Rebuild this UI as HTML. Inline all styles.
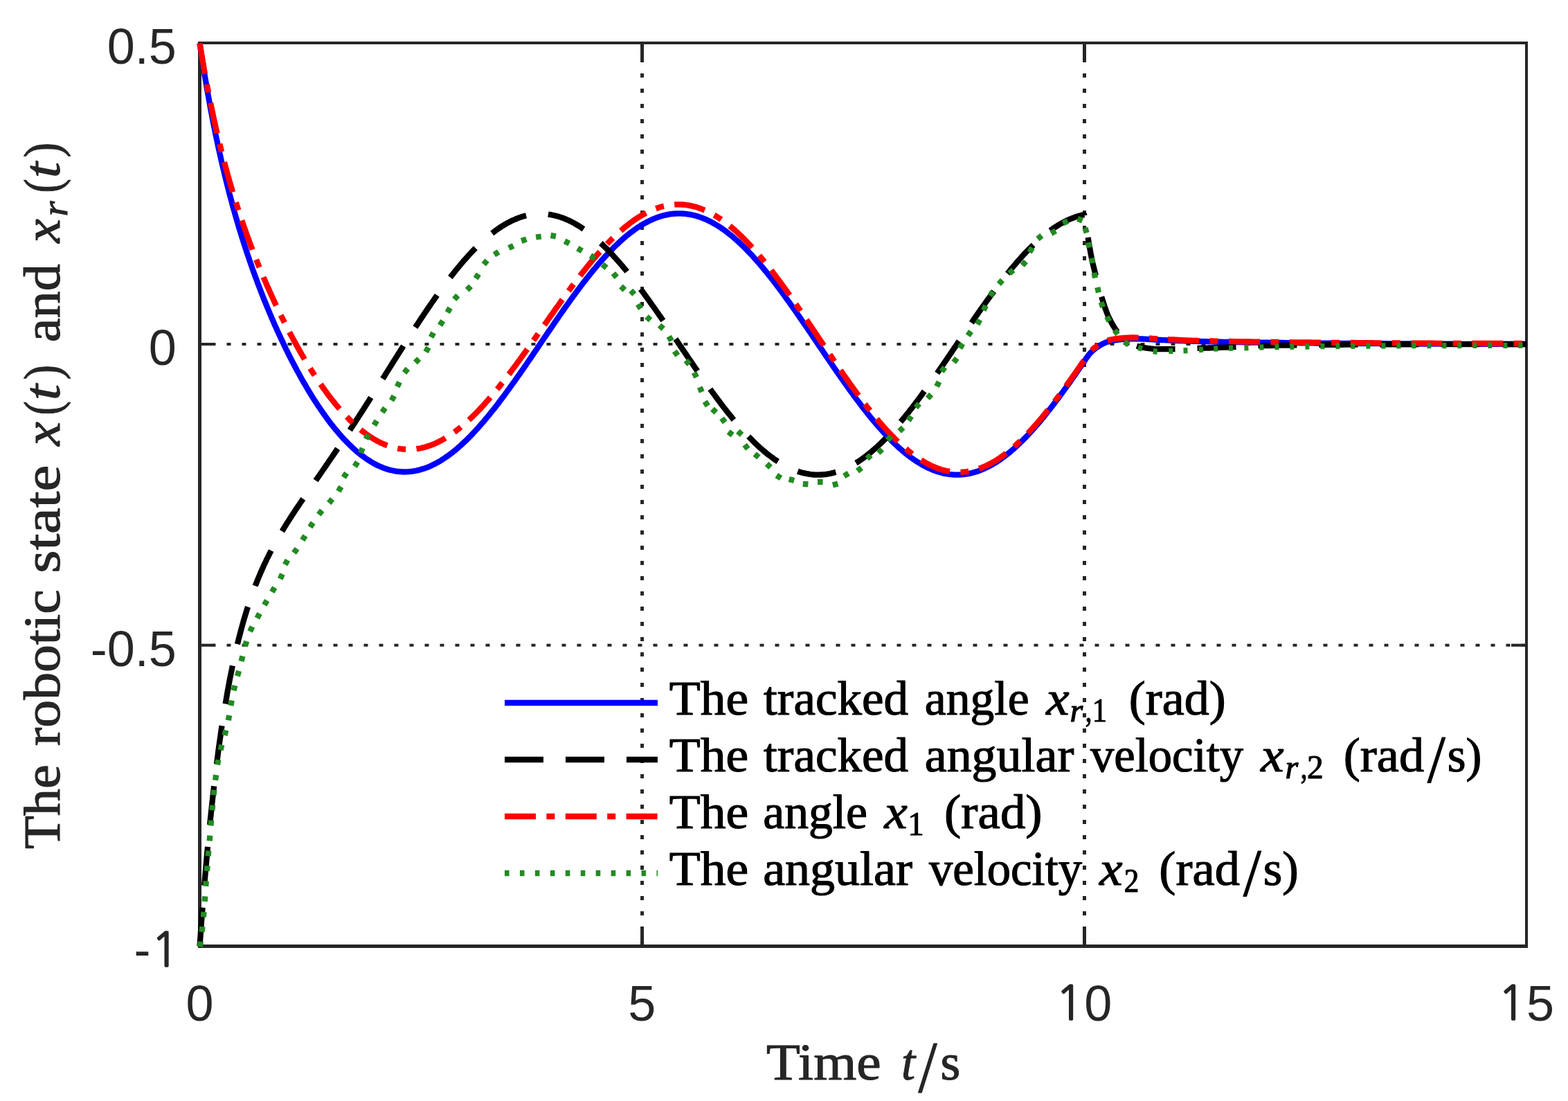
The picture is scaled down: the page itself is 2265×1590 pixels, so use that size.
<!DOCTYPE html>
<html><head><meta charset="utf-8"><title>Robotic state tracking</title>
<style>
html,body{margin:0;padding:0;background:#fff;}
body{width:2265px;height:1590px;overflow:hidden;}
svg{display:block;}
.tick{font-family:"Liberation Sans",Arial,Helvetica,sans-serif;font-size:72px;fill:#262626;}
.tex{font-family:"Liberation Serif","DejaVu Serif",serif;fill:#000;}
</style></head><body>
<svg xmlns="http://www.w3.org/2000/svg" width="2265" height="1590" viewBox="0 0 2265 1590">
<rect x="0" y="0" width="2265" height="1590" fill="#fff"/>

<g stroke="#262626" stroke-dasharray="6 16" fill="none">
<line x1="927.6" y1="1366.4" x2="927.6" y2="62.3" stroke-width="5" stroke-dashoffset="21.7"/>
<line x1="1566.5" y1="1366.4" x2="1566.5" y2="62.3" stroke-width="5" stroke-dashoffset="21.7"/>
<line x1="288.5" y1="497.0" x2="2205.0" y2="497.0" stroke-width="4.1" stroke-dashoffset="5.0"/>
<line x1="288.5" y1="931.7" x2="2205.0" y2="931.7" stroke-width="4.1" stroke-dashoffset="5.0"/>
</g>
<g fill="#262626" stroke="none">
<rect x="286" y="60" width="5" height="1309"/>
<rect x="2203" y="60" width="4" height="1309"/>
<rect x="286" y="60" width="1921" height="4"/>
<rect x="286" y="1364" width="1921" height="5"/>
<rect x="925.1" y="1344.0" width="5" height="22.5"/>
<rect x="925.1" y="62" width="5" height="22.5"/>
<rect x="1564.0" y="1344.0" width="5" height="22.5"/>
<rect x="1564.0" y="62" width="5" height="22.5"/>
<rect x="288.5" y="495.0" width="22" height="4.1"/>
<rect x="2183" y="495.0" width="22" height="4.1"/>
<rect x="288.5" y="929.7" width="22" height="4.1"/>
<rect x="2183" y="929.7" width="22" height="4.1"/>
</g>
<clipPath id="plotclip"><rect x="284.0" y="60.0" width="1923.1" height="1309.1000000000001"/></clipPath>
<g fill="none" stroke-width="8.3" stroke-linejoin="round" stroke-linecap="butt" clip-path="url(#plotclip)">
<path d="M288.5,62.3 L289.6,69.5 L290.6,76.7 L291.7,83.7 L292.8,90.5 L293.9,97.3 L294.9,103.9 L296.0,110.5 L297.1,116.9 L298.2,123.2 L299.2,129.5 L300.3,135.6 L301.4,141.6 L302.5,147.5 L303.5,153.4 L304.6,159.1 L305.7,164.8 L306.8,170.4 L307.8,175.9 L308.9,181.3 L310.0,186.7 L311.0,191.9 L312.1,197.1 L313.2,202.2 L314.3,207.3 L315.3,212.2 L316.4,217.2 L317.5,222.0 L318.6,226.8 L319.6,231.5 L320.7,236.1 L321.8,240.7 L322.9,245.3 L323.9,249.7 L325.0,254.2 L326.1,258.5 L327.2,262.9 L328.2,267.1 L329.3,271.3 L330.4,275.5 L331.4,279.6 L332.5,283.7 L333.6,287.7 L334.7,291.7 L335.7,295.6 L336.8,299.5 L337.9,303.3 L339.0,307.1 L340.0,310.9 L341.1,314.6 L342.2,318.3 L343.3,322.0 L344.3,325.6 L345.4,329.2 L346.5,332.7 L347.6,336.2 L348.6,339.7 L349.7,343.1 L350.8,346.5 L351.8,349.9 L352.9,353.2 L354.0,356.6 L355.1,359.8 L356.1,363.1 L357.2,366.3 L358.3,369.5 L359.4,372.7 L360.4,375.8 L361.5,378.9 L362.6,382.0 L363.7,385.1 L364.7,388.1 L365.8,391.1 L366.9,394.1 L368.0,397.1 L369.0,400.0 L370.1,402.9 L371.2,405.8 L372.2,408.7 L373.3,411.5 L374.4,414.4 L375.5,417.2 L376.5,419.9 L377.6,422.7 L378.7,425.5 L379.8,428.2 L380.8,430.9 L381.9,433.6 L383.0,436.2 L384.1,438.9 L385.1,441.5 L386.2,444.1 L387.3,446.7 L388.4,449.3 L389.4,451.8 L390.5,454.3 L391.6,456.9 L392.6,459.4 L393.7,461.8 L394.8,464.3 L395.9,466.8 L396.9,469.2 L398.0,471.6 L399.1,474.0 L400.2,476.4 L401.2,478.8 L402.3,481.1 L403.4,483.4 L404.5,485.8 L405.5,488.1 L406.6,490.4 L407.7,492.6 L408.8,494.9 L409.8,497.1 L410.9,499.4 L412.0,501.6 L413.0,503.8 L414.1,506.0 L415.2,508.1 L416.3,510.3 L418.8,515.3 L421.3,520.3 L423.9,525.2 L426.4,530.0 L428.9,534.7 L431.5,539.3 L434.0,543.9 L436.5,548.4 L439.1,552.9 L441.6,557.2 L444.1,561.5 L446.7,565.7 L449.2,569.8 L451.7,573.9 L454.3,577.9 L456.8,581.8 L459.3,585.7 L461.9,589.4 L464.4,593.1 L466.9,596.8 L469.5,600.3 L472.0,603.8 L474.5,607.2 L477.0,610.6 L479.6,613.8 L482.1,617.0 L484.6,620.1 L487.2,623.2 L489.7,626.1 L492.2,629.0 L494.8,631.9 L497.3,634.6 L499.8,637.3 L502.4,639.9 L504.9,642.4 L507.4,644.8 L510.0,647.2 L512.5,649.5 L515.0,651.7 L517.6,653.8 L520.1,655.9 L522.6,657.8 L525.2,659.7 L527.7,661.5 L530.2,663.3 L532.8,664.9 L535.3,666.5 L537.8,668.0 L540.4,669.5 L542.9,670.8 L545.4,672.1 L548.0,673.2 L550.5,674.3 L553.0,675.4 L555.6,676.3 L558.1,677.2 L560.6,678.0 L563.2,678.7 L565.7,679.3 L568.2,679.8 L570.8,680.3 L573.3,680.7 L575.8,681.0 L578.4,681.2 L580.9,681.4 L583.4,681.5 L585.9,681.4 L588.5,681.4 L591.0,681.2 L593.5,680.9 L596.1,680.6 L598.6,680.2 L601.1,679.7 L603.7,679.2 L606.2,678.5 L608.7,677.8 L611.3,677.1 L613.8,676.2 L616.3,675.3 L618.9,674.3 L621.4,673.2 L623.9,672.0 L626.5,670.8 L629.0,669.5 L631.5,668.1 L634.1,666.7 L636.6,665.2 L639.1,663.6 L641.7,662.0 L644.2,660.2 L646.7,658.5 L649.3,656.6 L651.8,654.7 L654.3,652.7 L656.9,650.7 L659.4,648.6 L661.9,646.4 L664.5,644.2 L667.0,641.9 L669.5,639.5 L672.1,637.1 L674.6,634.7 L677.1,632.2 L679.7,629.6 L682.2,627.0 L684.7,624.3 L687.3,621.5 L689.8,618.8 L692.3,615.9 L694.8,613.1 L697.4,610.1 L699.9,607.2 L702.4,604.1 L705.0,601.1 L707.5,598.0 L710.0,594.8 L712.6,591.7 L715.1,588.4 L717.6,585.2 L720.2,581.9 L722.7,578.6 L725.2,575.2 L727.8,571.8 L730.3,568.4 L732.8,564.9 L735.4,561.4 L737.9,557.9 L740.4,554.4 L743.0,550.9 L745.5,547.3 L748.0,543.7 L750.6,540.1 L753.1,536.4 L755.6,532.8 L758.2,529.1 L760.7,525.5 L763.2,521.8 L765.8,518.1 L768.3,514.4 L770.8,510.6 L773.4,506.9 L775.9,503.2 L778.4,499.5 L781.0,495.7 L783.5,492.0 L786.0,488.3 L788.6,484.6 L791.1,480.8 L793.6,477.1 L796.2,473.4 L798.7,469.7 L801.2,466.0 L803.7,462.4 L806.3,458.7 L808.8,455.0 L811.3,451.4 L813.9,447.8 L816.4,444.2 L818.9,440.6 L821.5,437.1 L824.0,433.5 L826.5,430.0 L829.1,426.6 L831.6,423.1 L834.1,419.7 L836.7,416.3 L839.2,412.9 L841.7,409.6 L844.3,406.3 L846.8,403.1 L849.3,399.8 L851.9,396.6 L854.4,393.5 L856.9,390.4 L859.5,387.3 L862.0,384.3 L864.5,381.3 L867.1,378.4 L869.6,375.5 L872.1,372.7 L874.7,369.9 L877.2,367.2 L879.7,364.5 L882.3,361.9 L884.8,359.3 L887.3,356.7 L889.9,354.3 L892.4,351.9 L894.9,349.5 L897.5,347.2 L900.0,344.9 L902.5,342.8 L905.1,340.6 L907.6,338.6 L910.1,336.6 L912.7,334.6 L915.2,332.8 L917.7,331.0 L920.2,329.2 L922.8,327.5 L925.3,325.9 L927.8,324.4 L930.4,322.9 L932.9,321.5 L935.4,320.2 L938.0,318.9 L940.5,317.7 L943.0,316.6 L945.6,315.5 L948.1,314.5 L950.6,313.6 L953.2,312.8 L955.7,312.0 L958.2,311.3 L960.8,310.7 L963.3,310.1 L965.8,309.6 L968.4,309.2 L970.9,308.9 L973.4,308.6 L976.0,308.5 L978.5,308.4 L981.0,308.3 L983.6,308.4 L986.1,308.5 L988.6,308.7 L991.2,308.9 L993.7,309.3 L996.2,309.7 L998.8,310.1 L1001.3,310.7 L1003.8,311.3 L1006.4,312.0 L1008.9,312.8 L1011.4,313.7 L1014.0,314.6 L1016.5,315.6 L1019.0,316.6 L1021.6,317.8 L1024.1,319.0 L1026.6,320.2 L1029.1,321.6 L1031.7,323.0 L1034.2,324.5 L1036.7,326.0 L1039.3,327.6 L1041.8,329.3 L1044.3,331.0 L1046.9,332.9 L1049.4,334.7 L1051.9,336.7 L1054.5,338.7 L1057.0,340.7 L1059.5,342.9 L1062.1,345.1 L1064.6,347.3 L1067.1,349.6 L1069.7,352.0 L1072.2,354.4 L1074.7,356.9 L1077.3,359.4 L1079.8,362.0 L1082.3,364.6 L1084.9,367.3 L1087.4,370.1 L1089.9,372.9 L1092.5,375.7 L1095.0,378.6 L1097.5,381.5 L1100.1,384.5 L1102.6,387.5 L1105.1,390.6 L1107.7,393.7 L1110.2,396.8 L1112.7,400.0 L1115.3,403.3 L1117.8,406.5 L1120.3,409.8 L1122.9,413.2 L1125.4,416.5 L1127.9,419.9 L1130.5,423.3 L1133.0,426.8 L1135.5,430.3 L1138.0,433.8 L1140.6,437.3 L1143.1,440.9 L1145.6,444.5 L1148.2,448.1 L1150.7,451.7 L1153.2,455.3 L1155.8,459.0 L1158.3,462.7 L1160.8,466.3 L1163.4,470.0 L1165.9,473.8 L1168.4,477.5 L1171.0,481.2 L1173.5,484.9 L1176.0,488.7 L1178.6,492.4 L1181.1,496.1 L1183.6,499.9 L1186.2,503.6 L1188.7,507.3 L1191.2,511.1 L1193.8,514.8 L1196.3,518.5 L1198.8,522.2 L1201.4,525.9 L1203.9,529.6 L1206.4,533.3 L1209.0,537.0 L1211.5,540.6 L1214.0,544.2 L1216.6,547.8 L1219.1,551.4 L1221.6,555.0 L1224.2,558.6 L1226.7,562.1 L1229.2,565.6 L1231.8,569.0 L1234.3,572.5 L1236.8,575.9 L1239.4,579.3 L1241.9,582.6 L1244.4,585.9 L1246.9,589.2 L1249.5,592.5 L1252.0,595.7 L1254.5,598.8 L1257.1,602.0 L1259.6,605.1 L1262.1,608.1 L1264.7,611.1 L1267.2,614.1 L1269.7,617.0 L1272.3,619.8 L1274.8,622.6 L1277.3,625.4 L1279.9,628.1 L1282.4,630.8 L1284.9,633.4 L1287.5,636.0 L1290.0,638.5 L1292.5,640.9 L1295.1,643.3 L1297.6,645.6 L1300.1,647.9 L1302.7,650.1 L1305.2,652.3 L1307.7,654.4 L1310.3,656.4 L1312.8,658.4 L1315.3,660.3 L1317.9,662.1 L1320.4,663.9 L1322.9,665.6 L1325.5,667.2 L1328.0,668.8 L1330.5,670.3 L1333.1,671.8 L1335.6,673.1 L1338.1,674.5 L1340.7,675.7 L1343.2,676.8 L1345.7,677.9 L1348.3,679.0 L1350.8,679.9 L1353.3,680.8 L1355.8,681.6 L1358.4,682.3 L1360.9,683.0 L1363.4,683.6 L1366.0,684.1 L1368.5,684.5 L1371.0,684.9 L1373.6,685.2 L1376.1,685.4 L1378.6,685.6 L1381.2,685.7 L1383.7,685.6 L1386.2,685.6 L1388.8,685.4 L1391.3,685.2 L1393.8,684.9 L1396.4,684.5 L1398.9,684.1 L1401.4,683.6 L1404.0,683.0 L1406.5,682.3 L1409.0,681.6 L1411.6,680.8 L1414.1,679.9 L1416.6,678.9 L1419.2,677.9 L1421.7,676.8 L1424.2,675.6 L1426.8,674.4 L1429.3,673.1 L1431.8,671.7 L1434.4,670.3 L1436.9,668.8 L1439.4,667.2 L1442.0,665.5 L1444.5,663.8 L1447.0,662.0 L1449.6,660.2 L1452.1,658.3 L1454.6,656.3 L1457.2,654.3 L1459.7,652.2 L1462.2,650.0 L1464.8,647.8 L1467.3,645.5 L1469.8,643.2 L1472.3,640.8 L1474.9,638.3 L1477.4,635.8 L1479.9,633.3 L1482.5,630.7 L1485.0,628.0 L1487.5,625.3 L1490.1,622.5 L1492.6,619.7 L1495.1,616.8 L1497.7,613.9 L1500.2,611.0 L1502.7,608.0 L1505.3,604.9 L1507.8,601.8 L1510.3,598.7 L1512.9,595.5 L1515.4,592.3 L1517.9,589.1 L1520.5,585.8 L1523.0,582.5 L1525.5,579.1 L1528.1,575.8 L1530.6,572.3 L1533.1,568.9 L1535.7,565.4 L1538.2,561.9 L1540.7,558.4 L1543.3,554.9 L1545.8,551.3 L1548.3,547.7 L1550.9,544.1 L1553.4,540.4 L1554.3,539.2 L1555.2,537.9 L1556.0,536.6 L1556.9,535.4 L1557.8,534.1 L1558.7,532.8 L1559.6,531.5 L1560.5,530.2 L1561.3,528.9 L1562.2,527.7 L1563.1,526.4 L1564.0,525.1 L1564.9,523.8 L1565.8,522.5 L1566.2,521.9 L1566.6,521.1 L1567.5,519.8 L1568.4,518.4 L1569.3,517.1 L1570.2,515.9 L1571.1,514.6 L1572.0,513.5 L1572.8,512.3 L1573.7,511.3 L1574.6,510.3 L1575.5,509.3 L1576.4,508.4 L1577.3,507.6 L1578.1,506.7 L1579.0,505.9 L1579.9,505.1 L1580.8,504.4 L1581.7,503.7 L1582.6,503.0 L1583.4,502.4 L1584.3,501.7 L1585.2,501.1 L1586.1,500.5 L1587.0,500.0 L1587.9,499.5 L1588.7,498.9 L1589.6,498.4 L1590.5,497.9 L1591.4,497.4 L1592.3,496.9 L1593.2,496.4 L1594.1,496.0 L1594.9,495.6 L1595.8,495.1 L1596.7,494.8 L1597.6,494.4 L1598.5,494.1 L1599.4,493.8 L1600.2,493.6 L1601.1,493.3 L1602.0,493.1 L1602.9,492.9 L1603.8,492.7 L1604.7,492.5 L1605.5,492.3 L1606.4,492.1 L1607.3,491.9 L1608.2,491.8 L1609.1,491.6 L1610.0,491.5 L1610.8,491.3 L1611.7,491.2 L1612.6,491.1 L1613.5,490.9 L1614.4,490.8 L1615.3,490.7 L1616.1,490.6 L1617.0,490.5 L1617.9,490.4 L1618.8,490.3 L1619.7,490.2 L1620.6,490.1 L1621.5,490.1 L1622.3,490.0 L1623.2,489.9 L1624.1,489.8 L1625.0,489.8 L1625.9,489.7 L1626.8,489.7 L1627.6,489.6 L1628.5,489.6 L1629.4,489.5 L1630.3,489.5 L1631.2,489.4 L1632.1,489.4 L1632.9,489.3 L1633.8,489.3 L1634.7,489.3 L1635.6,489.3 L1636.5,489.3 L1637.4,489.3 L1638.2,489.3 L1639.1,489.3 L1640.0,489.3 L1640.9,489.3 L1641.8,489.3 L1642.7,489.3 L1643.5,489.3 L1644.4,489.4 L1645.3,489.4 L1646.2,489.4 L1647.1,489.4 L1648.0,489.4 L1648.9,489.5 L1649.7,489.5 L1650.6,489.5 L1651.5,489.5 L1652.4,489.6 L1653.3,489.6 L1654.2,489.7 L1655.0,489.7 L1655.9,489.8 L1656.8,489.8 L1657.7,489.9 L1658.6,489.9 L1659.5,490.0 L1660.3,490.0 L1661.2,490.1 L1662.1,490.1 L1663.0,490.2 L1663.9,490.2 L1664.8,490.3 L1665.6,490.4 L1666.5,490.4 L1667.4,490.5 L1668.3,490.5 L1669.2,490.6 L1670.1,490.6 L1671.0,490.7 L1671.8,490.7 L1672.7,490.7 L1673.6,490.8 L1674.5,490.8 L1675.4,490.9 L1676.3,490.9 L1677.1,491.0 L1678.0,491.0 L1678.9,491.0 L1679.8,491.1 L1680.7,491.1 L1681.6,491.2 L1682.4,491.2 L1683.3,491.2 L1684.2,491.3 L1685.1,491.3 L1686.0,491.4 L1686.9,491.4 L1687.7,491.4 L1688.6,491.5 L1689.5,491.5 L1690.4,491.6 L1691.3,491.6 L1692.2,491.6 L1693.0,491.7 L1693.9,491.7 L1698.2,491.9 L1702.5,492.0 L1706.8,492.2 L1711.1,492.3 L1715.4,492.5 L1719.7,492.6 L1724.0,492.8 L1728.3,492.9 L1732.6,493.0 L1736.9,493.1 L1741.2,493.2 L1745.5,493.3 L1749.8,493.4 L1754.1,493.5 L1758.4,493.6 L1762.6,493.7 L1766.9,493.8 L1771.2,493.9 L1775.5,493.9 L1779.8,494.0 L1784.1,494.1 L1788.4,494.1 L1792.7,494.2 L1797.0,494.3 L1801.3,494.3 L1805.6,494.4 L1809.9,494.5 L1814.2,494.5 L1818.5,494.6 L1822.8,494.6 L1827.1,494.7 L1831.4,494.7 L1835.7,494.8 L1840.0,494.8 L1844.2,494.9 L1848.5,495.0 L1852.8,495.0 L1857.1,495.1 L1861.4,495.1 L1865.7,495.1 L1870.0,495.2 L1874.3,495.2 L1878.6,495.3 L1882.9,495.3 L1887.2,495.4 L1891.5,495.4 L1895.8,495.4 L1900.1,495.5 L1904.4,495.5 L1908.7,495.6 L1913.0,495.6 L1917.3,495.6 L1921.6,495.7 L1925.8,495.7 L1930.1,495.7 L1934.4,495.8 L1938.7,495.8 L1943.0,495.8 L1947.3,495.9 L1951.6,495.9 L1955.9,495.9 L1960.2,495.9 L1964.5,496.0 L1968.8,496.0 L1973.1,496.0 L1977.4,496.1 L1981.7,496.1 L1986.0,496.1 L1990.3,496.2 L1994.6,496.2 L1998.9,496.2 L2003.2,496.2 L2007.4,496.3 L2011.7,496.3 L2016.0,496.3 L2020.3,496.4 L2024.6,496.4 L2028.9,496.4 L2033.2,496.4 L2037.5,496.5 L2041.8,496.5 L2046.1,496.5 L2050.4,496.5 L2054.7,496.6 L2059.0,496.6 L2063.3,496.6 L2067.6,496.6 L2071.9,496.6 L2076.2,496.6 L2080.5,496.7 L2084.7,496.7 L2089.0,496.7 L2093.3,496.7 L2097.6,496.7 L2101.9,496.7 L2106.2,496.8 L2110.5,496.8 L2114.8,496.8 L2119.1,496.8 L2123.4,496.8 L2127.7,496.8 L2132.0,496.8 L2136.3,496.9 L2140.6,496.9 L2144.9,496.9 L2149.2,496.9 L2153.5,496.9 L2157.8,496.9 L2162.1,496.9 L2166.3,496.9 L2170.6,496.9 L2174.9,497.0 L2179.2,497.0 L2183.5,497.0 L2187.8,497.0 L2192.1,497.0 L2196.4,497.0 L2200.7,497.0 L2205.0,497.0" stroke="#0000ff"/>
<path d="M288.5,1366.4 L289.6,1351.3 L290.6,1336.6 L291.7,1322.2 L292.8,1308.3 L293.9,1294.7 L294.9,1281.5 L296.0,1268.6 L297.1,1256.0 L298.2,1243.7 L299.2,1231.8 L300.3,1220.2 L301.4,1208.9 L302.5,1197.8 L303.5,1187.0 L304.6,1176.6 L305.7,1166.3 L306.8,1156.4 L307.8,1146.7 L308.9,1137.2 L310.0,1127.9 L311.0,1118.9 L312.1,1110.1 L313.2,1101.6 L314.3,1093.2 L315.3,1085.1 L316.4,1077.1 L317.5,1069.4 L318.6,1061.8 L319.6,1054.4 L320.7,1047.2 L321.8,1040.1 L322.9,1033.3 L323.9,1026.6 L325.0,1020.0 L326.1,1013.6 L327.2,1007.4 L328.2,1001.3 L329.3,995.3 L330.4,989.5 L331.4,983.8 L332.5,978.2 L333.6,972.8 L334.7,967.5 L335.7,962.3 L336.8,957.2 L337.9,952.3 L339.0,947.4 L340.0,942.7 L341.1,938.0 L342.2,933.5 L343.3,929.0 L344.3,924.7 L345.4,920.4 L346.5,916.3 L347.6,912.2 L348.6,908.2 L349.7,904.3 L350.8,900.4 L351.8,896.7 L352.9,893.0 L354.0,889.3 L355.1,885.8 L356.1,882.3 L357.2,878.9 L358.3,875.6 L359.4,872.3 L360.4,869.1 L361.5,865.9 L362.6,862.8 L363.7,859.8 L364.7,856.8 L365.8,853.8 L366.9,850.9 L368.0,848.1 L369.0,845.3 L370.1,842.6 L371.2,839.9 L372.2,837.2 L373.3,834.6 L374.4,832.0 L375.5,829.5 L376.5,827.0 L377.6,824.5 L378.7,822.1 L379.8,819.7 L380.8,817.3 L381.9,815.0 L383.0,812.7 L384.1,810.5 L385.1,808.2 L386.2,806.0 L387.3,803.9 L388.4,801.7 L389.4,799.6 L390.5,797.5 L391.6,795.4 L392.6,793.4 L393.7,791.4 L394.8,789.4 L395.9,787.4 L396.9,785.4 L398.0,783.5 L399.1,781.6 L400.2,779.7 L401.2,777.8 L402.3,775.9 L403.4,774.1 L404.5,772.2 L405.5,770.4 L406.6,768.6 L407.7,766.8 L408.8,765.0 L409.8,763.3 L410.9,761.5 L412.0,759.8 L413.0,758.1 L414.1,756.3 L415.2,754.6 L416.3,752.9 L418.8,749.0 L421.3,745.0 L423.9,741.2 L426.4,737.3 L428.9,733.5 L431.5,729.8 L434.0,726.0 L436.5,722.3 L439.1,718.6 L441.6,714.9 L444.1,711.2 L446.7,707.6 L449.2,703.9 L451.7,700.2 L454.3,696.6 L456.8,692.9 L459.3,689.3 L461.9,685.6 L464.4,682.0 L466.9,678.3 L469.5,674.6 L472.0,670.9 L474.5,667.2 L477.0,663.5 L479.6,659.8 L482.1,656.1 L484.6,652.4 L487.2,648.6 L489.7,644.9 L492.2,641.1 L494.8,637.3 L497.3,633.5 L499.8,629.7 L502.4,625.8 L504.9,622.0 L507.4,618.1 L510.0,614.2 L512.5,610.4 L515.0,606.4 L517.6,602.5 L520.1,598.6 L522.6,594.7 L525.2,590.7 L527.7,586.8 L530.2,582.8 L532.8,578.8 L535.3,574.8 L537.8,570.8 L540.4,566.8 L542.9,562.8 L545.4,558.8 L548.0,554.8 L550.5,550.7 L553.0,546.7 L555.6,542.7 L558.1,538.6 L560.6,534.6 L563.2,530.6 L565.7,526.5 L568.2,522.5 L570.8,518.5 L573.3,514.5 L575.8,510.5 L578.4,506.5 L580.9,502.5 L583.4,498.5 L585.9,494.5 L588.5,490.5 L591.0,486.6 L593.5,482.6 L596.1,478.7 L598.6,474.8 L601.1,470.9 L603.7,467.1 L606.2,463.2 L608.7,459.4 L611.3,455.6 L613.8,451.8 L616.3,448.1 L618.9,444.3 L621.4,440.6 L623.9,437.0 L626.5,433.3 L629.0,429.7 L631.5,426.1 L634.1,422.6 L636.6,419.1 L639.1,415.6 L641.7,412.2 L644.2,408.8 L646.7,405.4 L649.3,402.1 L651.8,398.8 L654.3,395.6 L656.9,392.4 L659.4,389.2 L661.9,386.1 L664.5,383.1 L667.0,380.1 L669.5,377.1 L672.1,374.2 L674.6,371.4 L677.1,368.6 L679.7,365.8 L682.2,363.2 L684.7,360.5 L687.3,357.9 L689.8,355.4 L692.3,353.0 L694.8,350.6 L697.4,348.2 L699.9,345.9 L702.4,343.7 L705.0,341.6 L707.5,339.5 L710.0,337.4 L712.6,335.5 L715.1,333.6 L717.6,331.7 L720.2,330.0 L722.7,328.3 L725.2,326.6 L727.8,325.1 L730.3,323.6 L732.8,322.2 L735.4,320.8 L737.9,319.5 L740.4,318.3 L743.0,317.2 L745.5,316.1 L748.0,315.1 L750.6,314.2 L753.1,313.3 L755.6,312.5 L758.2,311.8 L760.7,311.2 L763.2,310.7 L765.8,310.2 L768.3,309.8 L770.8,309.4 L773.4,309.2 L775.9,309.0 L778.4,308.9 L781.0,308.8 L783.5,308.9 L786.0,309.0 L788.6,309.2 L791.1,309.4 L793.6,309.8 L796.2,310.2 L798.7,310.7 L801.2,311.2 L803.7,311.9 L806.3,312.6 L808.8,313.4 L811.3,314.2 L813.9,315.1 L816.4,316.1 L818.9,317.2 L821.5,318.3 L824.0,319.6 L826.5,320.8 L829.1,322.2 L831.6,323.6 L834.1,325.1 L836.7,326.6 L839.2,328.3 L841.7,330.0 L844.3,331.7 L846.8,333.5 L849.3,335.4 L851.9,337.4 L854.4,339.4 L856.9,341.5 L859.5,343.6 L862.0,345.8 L864.5,348.0 L867.1,350.4 L869.6,352.7 L872.1,355.2 L874.7,357.6 L877.2,360.2 L879.7,362.8 L882.3,365.4 L884.8,368.1 L887.3,370.9 L889.9,373.7 L892.4,376.5 L894.9,379.4 L897.5,382.4 L900.0,385.3 L902.5,388.4 L905.1,391.4 L907.6,394.6 L910.1,397.7 L912.7,400.9 L915.2,404.1 L917.7,407.4 L920.2,410.7 L922.8,414.1 L925.3,417.4 L927.8,420.8 L930.4,424.3 L932.9,427.7 L935.4,431.2 L938.0,434.7 L940.5,438.3 L943.0,441.8 L945.6,445.4 L948.1,449.0 L950.6,452.6 L953.2,456.3 L955.7,459.9 L958.2,463.6 L960.8,467.3 L963.3,471.0 L965.8,474.7 L968.4,478.4 L970.9,482.1 L973.4,485.9 L976.0,489.6 L978.5,493.3 L981.0,497.1 L983.6,500.8 L986.1,504.6 L988.6,508.3 L991.2,512.0 L993.7,515.7 L996.2,519.5 L998.8,523.2 L1001.3,526.9 L1003.8,530.6 L1006.4,534.2 L1008.9,537.9 L1011.4,541.5 L1014.0,545.1 L1016.5,548.8 L1019.0,552.3 L1021.6,555.9 L1024.1,559.4 L1026.6,563.0 L1029.1,566.4 L1031.7,569.9 L1034.2,573.3 L1036.7,576.7 L1039.3,580.1 L1041.8,583.5 L1044.3,586.8 L1046.9,590.0 L1049.4,593.3 L1051.9,596.5 L1054.5,599.6 L1057.0,602.7 L1059.5,605.8 L1062.1,608.9 L1064.6,611.8 L1067.1,614.8 L1069.7,617.7 L1072.2,620.5 L1074.7,623.3 L1077.3,626.1 L1079.8,628.8 L1082.3,631.4 L1084.9,634.0 L1087.4,636.6 L1089.9,639.1 L1092.5,641.5 L1095.0,643.9 L1097.5,646.2 L1100.1,648.5 L1102.6,650.7 L1105.1,652.8 L1107.7,654.9 L1110.2,656.9 L1112.7,658.8 L1115.3,660.7 L1117.8,662.6 L1120.3,664.3 L1122.9,666.0 L1125.4,667.6 L1127.9,669.2 L1130.5,670.7 L1133.0,672.1 L1135.5,673.5 L1138.0,674.8 L1140.6,676.0 L1143.1,677.1 L1145.6,678.2 L1148.2,679.2 L1150.7,680.1 L1153.2,681.0 L1155.8,681.8 L1158.3,682.5 L1160.8,683.2 L1163.4,683.7 L1165.9,684.2 L1168.4,684.6 L1171.0,685.0 L1173.5,685.3 L1176.0,685.5 L1178.6,685.6 L1181.1,685.7 L1183.6,685.6 L1186.2,685.5 L1188.7,685.4 L1191.2,685.1 L1193.8,684.8 L1196.3,684.4 L1198.8,684.0 L1201.4,683.4 L1203.9,682.8 L1206.4,682.1 L1209.0,681.4 L1211.5,680.6 L1214.0,679.7 L1216.6,678.7 L1219.1,677.6 L1221.6,676.5 L1224.2,675.3 L1226.7,674.1 L1229.2,672.8 L1231.8,671.4 L1234.3,669.9 L1236.8,668.4 L1239.4,666.8 L1241.9,665.1 L1244.4,663.4 L1246.9,661.6 L1249.5,659.7 L1252.0,657.8 L1254.5,655.8 L1257.1,653.8 L1259.6,651.6 L1262.1,649.5 L1264.7,647.2 L1267.2,645.0 L1269.7,642.6 L1272.3,640.2 L1274.8,637.7 L1277.3,635.2 L1279.9,632.6 L1282.4,630.0 L1284.9,627.3 L1287.5,624.6 L1290.0,621.8 L1292.5,619.0 L1295.1,616.1 L1297.6,613.2 L1300.1,610.2 L1302.7,607.2 L1305.2,604.2 L1307.7,601.1 L1310.3,597.9 L1312.8,594.8 L1315.3,591.5 L1317.9,588.3 L1320.4,585.0 L1322.9,581.7 L1325.5,578.3 L1328.0,574.9 L1330.5,571.5 L1333.1,568.0 L1335.6,564.6 L1338.1,561.1 L1340.7,557.5 L1343.2,554.0 L1345.7,550.4 L1348.3,546.8 L1350.8,543.2 L1353.3,539.6 L1355.8,535.9 L1358.4,532.2 L1360.9,528.6 L1363.4,524.9 L1366.0,521.2 L1368.5,517.4 L1371.0,513.7 L1373.6,510.0 L1376.1,506.3 L1378.6,502.5 L1381.2,498.8 L1383.7,495.0 L1386.2,491.3 L1388.8,487.6 L1391.3,483.8 L1393.8,480.1 L1396.4,476.4 L1398.9,472.7 L1401.4,469.0 L1404.0,465.3 L1406.5,461.6 L1409.0,457.9 L1411.6,454.3 L1414.1,450.7 L1416.6,447.0 L1419.2,443.4 L1421.7,439.9 L1424.2,436.3 L1426.8,432.8 L1429.3,429.3 L1431.8,425.8 L1434.4,422.4 L1436.9,418.9 L1439.4,415.5 L1442.0,412.2 L1444.5,408.9 L1447.0,405.6 L1449.6,402.3 L1452.1,399.1 L1454.6,395.9 L1457.2,392.8 L1459.7,389.7 L1462.2,386.6 L1464.8,383.6 L1467.3,380.7 L1469.8,377.7 L1472.3,374.9 L1474.9,372.0 L1477.4,369.3 L1479.9,366.5 L1482.5,363.9 L1485.0,361.2 L1487.5,358.7 L1490.1,356.2 L1492.6,353.7 L1495.1,351.3 L1497.7,348.9 L1500.2,346.7 L1502.7,344.4 L1505.3,342.3 L1507.8,340.1 L1510.3,338.1 L1512.9,336.1 L1515.4,334.2 L1517.9,332.3 L1520.5,330.5 L1523.0,328.8 L1525.5,327.2 L1528.1,325.6 L1530.6,324.0 L1533.1,322.6 L1535.7,321.2 L1538.2,319.9 L1540.7,318.6 L1543.3,317.4 L1545.8,316.3 L1548.3,315.3 L1550.9,314.3 L1553.4,313.4 L1554.3,313.1 L1555.2,312.8 L1556.0,312.5 L1556.9,312.3 L1557.8,312.0 L1558.7,311.8 L1559.6,311.5 L1560.5,311.3 L1561.3,311.1 L1562.2,310.8 L1563.1,310.6 L1564.0,310.4 L1564.9,310.3 L1565.8,310.1 L1566.2,310.0 L1566.6,313.1 L1567.5,318.7 L1568.4,324.2 L1569.3,329.6 L1570.2,335.0 L1571.1,340.2 L1572.0,345.4 L1572.8,350.5 L1573.7,355.6 L1574.6,360.6 L1575.5,365.5 L1576.4,370.2 L1577.3,374.6 L1578.1,378.6 L1579.0,382.4 L1579.9,386.1 L1580.8,389.6 L1581.7,393.0 L1582.6,396.5 L1583.4,399.9 L1584.3,403.4 L1585.2,406.8 L1586.1,410.2 L1587.0,413.5 L1587.9,416.8 L1588.7,420.1 L1589.6,423.2 L1590.5,426.3 L1591.4,429.2 L1592.3,432.1 L1593.2,434.9 L1594.1,437.7 L1594.9,440.4 L1595.8,443.1 L1596.7,445.7 L1597.6,448.2 L1598.5,450.6 L1599.4,452.9 L1600.2,455.1 L1601.1,457.1 L1602.0,459.0 L1602.9,460.8 L1603.8,462.5 L1604.7,464.3 L1605.5,465.9 L1606.4,467.5 L1607.3,469.0 L1608.2,470.5 L1609.1,472.0 L1610.0,473.4 L1610.8,474.7 L1611.7,476.1 L1612.6,477.3 L1613.5,478.6 L1614.4,479.8 L1615.3,480.9 L1616.1,482.1 L1617.0,483.3 L1617.9,484.5 L1618.8,485.6 L1619.7,486.7 L1620.6,487.8 L1621.5,488.9 L1622.3,489.8 L1623.2,490.8 L1624.1,491.6 L1625.0,492.4 L1625.9,493.1" stroke="#000000" stroke-dasharray="56 32"/><path d="M1625.9,493.1 L1626.8,493.8 L1627.6,494.3 L1628.5,494.8 L1629.4,495.2 L1630.3,495.7 L1631.2,496.1 L1632.1,496.4 L1632.9,496.8 L1633.8,497.1 L1634.7,497.4 L1635.6,497.7 L1636.5,498.0 L1637.4,498.3 L1638.2,498.6 L1639.1,498.8 L1640.0,499.1 L1640.9,499.3 L1641.8,499.5 L1642.7,499.8 L1643.5,500.0 L1644.4,500.2 L1645.3,500.4 L1646.2,500.7 L1647.1,500.9 L1648.0,501.1 L1648.9,501.3 L1649.7,501.5 L1650.6,501.6 L1651.5,501.8 L1652.4,502.0 L1653.3,502.2 L1654.2,502.3 L1655.0,502.5 L1655.9,502.6 L1656.8,502.7 L1657.7,502.9 L1658.6,503.0 L1659.5,503.1 L1660.3,503.2 L1661.2,503.3 L1662.1,503.4 L1663.0,503.5 L1663.9,503.6 L1664.8,503.7 L1665.6,503.8 L1666.5,503.9 L1667.4,504.0 L1668.3,504.1 L1669.2,504.1 L1670.1,504.2 L1671.0,504.2 L1671.8,504.2 L1672.7,504.2 L1673.6,504.2 L1674.5,504.2 L1675.4,504.2 L1676.3,504.2 L1677.1,504.2 L1678.0,504.2 L1678.9,504.2 L1679.8,504.2 L1680.7,504.2 L1681.6,504.2 L1682.4,504.2 L1683.3,504.2 L1684.2,504.2 L1685.1,504.2 L1686.0,504.2 L1686.9,504.2 L1687.7,504.2 L1688.6,504.2 L1689.5,504.2 L1690.4,504.2 L1691.3,504.2 L1692.2,504.2 L1693.0,504.2 L1693.9,504.2 L1698.2,504.2 L1702.5,504.2 L1706.8,504.0 L1711.1,503.8 L1715.4,503.6 L1719.7,503.4 L1724.0,503.2 L1728.3,503.0 L1732.6,502.8 L1736.9,502.7 L1741.2,502.6 L1745.5,502.5 L1749.8,502.3 L1754.1,502.2 L1758.4,502.1 L1762.6,501.9 L1766.9,501.7 L1771.2,501.6 L1775.5,501.4 L1779.8,501.2 L1784.1,501.0 L1788.4,500.8 L1792.7,500.6 L1797.0,500.4 L1801.3,500.1 L1805.6,499.9 L1809.9,499.7 L1814.2,499.6 L1818.5,499.4 L1822.8,499.3 L1827.1,499.2 L1831.4,499.1 L1835.7,499.0 L1840.0,498.9 L1844.2,498.8 L1848.5,498.7 L1852.8,498.7 L1857.1,498.6 L1861.4,498.5 L1865.7,498.5 L1870.0,498.4 L1874.3,498.4 L1878.6,498.3 L1882.9,498.3 L1887.2,498.2 L1891.5,498.2 L1895.8,498.1 L1900.1,498.1 L1904.4,498.0 L1908.7,498.0 L1913.0,498.0 L1917.3,497.9 L1921.6,497.9 L1925.8,497.9 L1930.1,497.8 L1934.4,497.8 L1938.7,497.8 L1943.0,497.7 L1947.3,497.7 L1951.6,497.7 L1955.9,497.7 L1960.2,497.6 L1964.5,497.6 L1968.8,497.6 L1973.1,497.6 L1977.4,497.5 L1981.7,497.5 L1986.0,497.5 L1990.3,497.5 L1994.6,497.5 L1998.9,497.4 L2003.2,497.4 L2007.4,497.4 L2011.7,497.4 L2016.0,497.4 L2020.3,497.3 L2024.6,497.3 L2028.9,497.3 L2033.2,497.3 L2037.5,497.3 L2041.8,497.3 L2046.1,497.3 L2050.4,497.2 L2054.7,497.2 L2059.0,497.2 L2063.3,497.2 L2067.6,497.2 L2071.9,497.2 L2076.2,497.2 L2080.5,497.2 L2084.7,497.2 L2089.0,497.1 L2093.3,497.1 L2097.6,497.1 L2101.9,497.1 L2106.2,497.1 L2110.5,497.1 L2114.8,497.1 L2119.1,497.1 L2123.4,497.1 L2127.7,497.1 L2132.0,497.1 L2136.3,497.1 L2140.6,497.1 L2144.9,497.0 L2149.2,497.0 L2153.5,497.0 L2157.8,497.0 L2162.1,497.0 L2166.3,497.0 L2170.6,497.0 L2174.9,497.0 L2179.2,497.0 L2183.5,497.0 L2187.8,497.0 L2192.1,497.0 L2196.4,497.0 L2200.7,497.0 L2205.0,497.0" stroke="#000000" stroke-dasharray="56 32" stroke-dashoffset="70.5"/>
<path d="M288.5,62.3 L289.6,69.0 L290.6,75.5 L291.7,82.0 L292.8,88.3 L293.9,94.5 L294.9,100.6 L296.0,106.6 L297.1,112.5 L298.2,118.3 L299.2,124.0 L300.3,129.6 L301.4,135.2 L302.5,140.6 L303.5,145.9 L304.6,151.2 L305.7,156.4 L306.8,161.5 L307.8,166.5 L308.9,171.5 L310.0,176.4 L311.0,181.2 L312.1,185.9 L313.2,190.6 L314.3,195.2 L315.3,199.8 L316.4,204.2 L317.5,208.7 L318.6,213.0 L319.6,217.3 L320.7,221.6 L321.8,225.8 L322.9,229.9 L323.9,234.0 L325.0,238.0 L326.1,242.0 L327.2,246.0 L328.2,249.9 L329.3,253.7 L330.4,257.5 L331.4,261.3 L332.5,265.0 L333.6,268.7 L334.7,272.3 L335.7,275.9 L336.8,279.5 L337.9,283.0 L339.0,286.5 L340.0,289.9 L341.1,293.3 L342.2,296.7 L343.3,300.1 L344.3,303.4 L345.4,306.7 L346.5,309.9 L347.6,313.1 L348.6,316.3 L349.7,319.5 L350.8,322.6 L351.8,325.7 L352.9,328.8 L354.0,331.8 L355.1,334.9 L356.1,337.9 L357.2,340.8 L358.3,343.8 L359.4,346.7 L360.4,349.6 L361.5,352.5 L362.6,355.4 L363.7,358.2 L364.7,361.0 L365.8,363.8 L366.9,366.6 L368.0,369.3 L369.0,372.1 L370.1,374.8 L371.2,377.5 L372.2,380.1 L373.3,382.8 L374.4,385.4 L375.5,388.0 L376.5,390.6 L377.6,393.2 L378.7,395.8 L379.8,398.3 L380.8,400.9 L381.9,403.4 L383.0,405.9 L384.1,408.4 L385.1,410.8 L386.2,413.3 L387.3,415.7 L388.4,418.1 L389.4,420.5 L390.5,422.9 L391.6,425.3 L392.6,427.7 L393.7,430.0 L394.8,432.3 L395.9,434.7 L396.9,437.0 L398.0,439.3 L399.1,441.5 L400.2,443.8 L401.2,446.0 L402.3,448.3 L403.4,450.5 L404.5,452.7 L405.5,454.9 L406.6,457.1 L407.7,459.3 L408.8,461.4 L409.8,463.6 L410.9,465.7 L412.0,467.8 L413.0,469.9 L414.1,472.0 L415.2,474.1 L416.3,476.2 L418.8,481.0 L421.3,485.8 L423.9,490.5 L426.4,495.1 L428.9,499.7 L431.5,504.2 L434.0,508.6 L436.5,513.0 L439.1,517.3 L441.6,521.5 L444.1,525.7 L446.7,529.8 L449.2,533.9 L451.7,537.8 L454.3,541.7 L456.8,545.6 L459.3,549.4 L461.9,553.1 L464.4,556.7 L466.9,560.3 L469.5,563.8 L472.0,567.3 L474.5,570.7 L477.0,574.0 L479.6,577.3 L482.1,580.4 L484.6,583.6 L487.2,586.6 L489.7,589.6 L492.2,592.5 L494.8,595.3 L497.3,598.1 L499.8,600.8 L502.4,603.4 L504.9,606.0 L507.4,608.5 L510.0,610.9 L512.5,613.3 L515.0,615.5 L517.6,617.7 L520.1,619.9 L522.6,621.9 L525.2,623.9 L527.7,625.8 L530.2,627.7 L532.8,629.4 L535.3,631.1 L537.8,632.7 L540.4,634.3 L542.9,635.7 L545.4,637.1 L548.0,638.4 L550.5,639.7 L553.0,640.8 L555.6,641.9 L558.1,642.9 L560.6,643.8 L563.2,644.7 L565.7,645.5 L568.2,646.2 L570.8,646.8 L573.3,647.3 L575.8,647.8 L578.4,648.2 L580.9,648.5 L583.4,648.7 L585.9,648.9 L588.5,649.0 L591.0,649.0 L593.5,648.9 L596.1,648.8 L598.6,648.6 L601.1,648.3 L603.7,647.9 L606.2,647.5 L608.7,647.0 L611.3,646.4 L613.8,645.7 L616.3,645.0 L618.9,644.1 L621.4,643.3 L623.9,642.3 L626.5,641.3 L629.0,640.2 L631.5,639.0 L634.1,637.8 L636.6,636.5 L639.1,635.1 L641.7,633.7 L644.2,632.1 L646.7,630.6 L649.3,628.9 L651.8,627.2 L654.3,625.4 L656.9,623.6 L659.4,621.7 L661.9,619.7 L664.5,617.7 L667.0,615.6 L669.5,613.5 L672.1,611.3 L674.6,609.0 L677.1,606.7 L679.7,604.3 L682.2,601.9 L684.7,599.4 L687.3,596.9 L689.8,594.3 L692.3,591.6 L694.8,589.0 L697.4,586.2 L699.9,583.4 L702.4,580.6 L705.0,577.7 L707.5,574.8 L710.0,571.8 L712.6,568.8 L715.1,565.8 L717.6,562.7 L720.2,559.6 L722.7,556.4 L725.2,553.2 L727.8,550.0 L730.3,546.7 L732.8,543.4 L735.4,540.1 L737.9,536.8 L740.4,533.4 L743.0,530.0 L745.5,526.6 L748.0,523.1 L750.6,519.7 L753.1,516.2 L755.6,512.7 L758.2,509.1 L760.7,505.6 L763.2,502.1 L765.8,498.5 L768.3,494.9 L770.8,491.3 L773.4,487.7 L775.9,484.1 L778.4,480.5 L781.0,476.9 L783.5,473.3 L786.0,469.7 L788.6,466.1 L791.1,462.5 L793.6,458.9 L796.2,455.3 L798.7,451.8 L801.2,448.2 L803.7,444.6 L806.3,441.1 L808.8,437.5 L811.3,434.0 L813.9,430.5 L816.4,427.0 L818.9,423.5 L821.5,420.1 L824.0,416.6 L826.5,413.2 L829.1,409.8 L831.6,406.5 L834.1,403.2 L836.7,399.8 L839.2,396.6 L841.7,393.3 L844.3,390.1 L846.8,387.0 L849.3,383.8 L851.9,380.7 L854.4,377.7 L856.9,374.6 L859.5,371.7 L862.0,368.7 L864.5,365.8 L867.1,363.0 L869.6,360.2 L872.1,357.4 L874.7,354.7 L877.2,352.0 L879.7,349.4 L882.3,346.8 L884.8,344.3 L887.3,341.9 L889.9,339.4 L892.4,337.1 L894.9,334.8 L897.5,332.6 L900.0,330.4 L902.5,328.3 L905.1,326.2 L907.6,324.2 L910.1,322.2 L912.7,320.4 L915.2,318.5 L917.7,316.8 L920.2,315.1 L922.8,313.5 L925.3,311.9 L927.8,310.4 L930.4,309.0 L932.9,307.6 L935.4,306.4 L938.0,305.1 L940.5,304.0 L943.0,302.9 L945.6,301.9 L948.1,301.0 L950.6,300.1 L953.2,299.3 L955.7,298.6 L958.2,297.9 L960.8,297.3 L963.3,296.8 L965.8,296.4 L968.4,296.0 L970.9,295.7 L973.4,295.5 L976.0,295.3 L978.5,295.3 L981.0,295.3 L983.6,295.4 L986.1,295.5 L988.6,295.7 L991.2,296.0 L993.7,296.4 L996.2,296.8 L998.8,297.4 L1001.3,297.9 L1003.8,298.6 L1006.4,299.3 L1008.9,300.1 L1011.4,301.0 L1014.0,302.0 L1016.5,303.0 L1019.0,304.1 L1021.6,305.3 L1024.1,306.5 L1026.6,307.8 L1029.1,309.2 L1031.7,310.6 L1034.2,312.1 L1036.7,313.7 L1039.3,315.3 L1041.8,317.0 L1044.3,318.8 L1046.9,320.7 L1049.4,322.6 L1051.9,324.5 L1054.5,326.6 L1057.0,328.7 L1059.5,330.8 L1062.1,333.0 L1064.6,335.3 L1067.1,337.7 L1069.7,340.0 L1072.2,342.5 L1074.7,345.0 L1077.3,347.6 L1079.8,350.2 L1082.3,352.8 L1084.9,355.6 L1087.4,358.3 L1089.9,361.2 L1092.5,364.0 L1095.0,366.9 L1097.5,369.9 L1100.1,372.9 L1102.6,376.0 L1105.1,379.1 L1107.7,382.2 L1110.2,385.4 L1112.7,388.6 L1115.3,391.9 L1117.8,395.2 L1120.3,398.5 L1122.9,401.9 L1125.4,405.3 L1127.9,408.7 L1130.5,412.2 L1133.0,415.6 L1135.5,419.2 L1138.0,422.7 L1140.6,426.3 L1143.1,429.9 L1145.6,433.5 L1148.2,437.1 L1150.7,440.8 L1153.2,444.5 L1155.8,448.2 L1158.3,451.9 L1160.8,455.6 L1163.4,459.3 L1165.9,463.1 L1168.4,466.8 L1171.0,470.6 L1173.5,474.4 L1176.0,478.2 L1178.6,481.9 L1181.1,485.7 L1183.6,489.5 L1186.2,493.3 L1188.7,497.1 L1191.2,500.9 L1193.8,504.6 L1196.3,508.4 L1198.8,512.2 L1201.4,515.9 L1203.9,519.7 L1206.4,523.4 L1209.0,527.1 L1211.5,530.8 L1214.0,534.5 L1216.6,538.2 L1219.1,541.8 L1221.6,545.4 L1224.2,549.0 L1226.7,552.6 L1229.2,556.2 L1231.8,559.7 L1234.3,563.2 L1236.8,566.7 L1239.4,570.1 L1241.9,573.5 L1244.4,576.9 L1246.9,580.3 L1249.5,583.6 L1252.0,586.9 L1254.5,590.1 L1257.1,593.3 L1259.6,596.5 L1262.1,599.6 L1264.7,602.7 L1267.2,605.7 L1269.7,608.7 L1272.3,611.6 L1274.8,614.5 L1277.3,617.4 L1279.9,620.2 L1282.4,622.9 L1284.9,625.6 L1287.5,628.3 L1290.0,630.8 L1292.5,633.4 L1295.1,635.9 L1297.6,638.3 L1300.1,640.7 L1302.7,643.0 L1305.2,645.2 L1307.7,647.4 L1310.3,649.5 L1312.8,651.6 L1315.3,653.6 L1317.9,655.6 L1320.4,657.4 L1322.9,659.3 L1325.5,661.0 L1328.0,662.7 L1330.5,664.3 L1333.1,665.9 L1335.6,667.4 L1338.1,668.8 L1340.7,670.2 L1343.2,671.5 L1345.7,672.7 L1348.3,673.8 L1350.8,674.9 L1353.3,675.9 L1355.8,676.8 L1358.4,677.6 L1360.9,678.4 L1363.4,679.1 L1366.0,679.7 L1368.5,680.2 L1371.0,680.7 L1373.6,681.1 L1376.1,681.4 L1378.6,681.6 L1381.2,681.8 L1383.7,681.9 L1386.2,681.9 L1388.8,681.8 L1391.3,681.6 L1393.8,681.4 L1396.4,681.1 L1398.9,680.7 L1401.4,680.2 L1404.0,679.7 L1406.5,679.1 L1409.0,678.4 L1411.6,677.6 L1414.1,676.8 L1416.6,675.9 L1419.2,674.9 L1421.7,673.8 L1424.2,672.7 L1426.8,671.5 L1429.3,670.2 L1431.8,668.9 L1434.4,667.4 L1436.9,666.0 L1439.4,664.4 L1442.0,662.8 L1444.5,661.1 L1447.0,659.3 L1449.6,657.5 L1452.1,655.6 L1454.6,653.7 L1457.2,651.6 L1459.7,649.6 L1462.2,647.4 L1464.8,645.2 L1467.3,643.0 L1469.8,640.6 L1472.3,638.3 L1474.9,635.8 L1477.4,633.3 L1479.9,630.8 L1482.5,628.2 L1485.0,625.6 L1487.5,622.9 L1490.1,620.1 L1492.6,617.3 L1495.1,614.5 L1497.7,611.6 L1500.2,608.6 L1502.7,605.6 L1505.3,602.6 L1507.8,599.5 L1510.3,596.4 L1512.9,593.3 L1515.4,590.1 L1517.9,586.8 L1520.5,583.6 L1523.0,580.3 L1525.5,576.9 L1528.1,573.6 L1530.6,570.2 L1533.1,566.7 L1535.7,563.3 L1538.2,559.8 L1540.7,556.3 L1543.3,552.7 L1545.8,549.2 L1548.3,545.6 L1550.9,542.0 L1553.4,538.4 L1554.3,537.1 L1555.2,535.9 L1556.0,534.6 L1556.9,533.3 L1557.8,532.0 L1558.7,530.8 L1559.6,529.5 L1560.5,528.2 L1561.3,526.9 L1562.2,525.6 L1563.1,524.4 L1564.0,523.1 L1564.9,521.8 L1565.8,520.5 L1566.2,519.9 L1566.6,519.1 L1567.5,517.8 L1568.4,516.4 L1569.3,515.1 L1570.2,513.9 L1571.1,512.7" stroke="#ff0000" stroke-dasharray="45 15.4 12 15.4"/><path d="M1571.1,512.7 L1572.0,511.5 L1572.8,510.4 L1573.7,509.3 L1574.6,508.3 L1575.5,507.3 L1576.4,506.4 L1577.3,505.6 L1578.1,504.8 L1579.0,504.0 L1579.9,503.2 L1580.8,502.4 L1581.7,501.7 L1582.6,501.1 L1583.4,500.4 L1584.3,499.8 L1585.2,499.2 L1586.1,498.6 L1587.0,498.1 L1587.9,497.5 L1588.7,497.0 L1589.6,496.5 L1590.5,495.9 L1591.4,495.4 L1592.3,495.0 L1593.2,494.5 L1594.1,494.0 L1594.9,493.6 L1595.8,493.2 L1596.7,492.9 L1597.6,492.5 L1598.5,492.2 L1599.4,491.9 L1600.2,491.6 L1601.1,491.4 L1602.0,491.2 L1602.9,491.0 L1603.8,490.7 L1604.7,490.6 L1605.5,490.4 L1606.4,490.2 L1607.3,490.0 L1608.2,489.9 L1609.1,489.7 L1610.0,489.6 L1610.8,489.4 L1611.7,489.3 L1612.6,489.2 L1613.5,489.1 L1614.4,488.9 L1615.3,488.8 L1616.1,488.7 L1617.0,488.6 L1617.9,488.5 L1618.8,488.4 L1619.7,488.4 L1620.6,488.3 L1621.5,488.2 L1622.3,488.1 L1623.2,488.0 L1624.1,488.0 L1625.0,487.9 L1625.9,487.9 L1626.8,487.8 L1627.6,487.8 L1628.5,487.7 L1629.4,487.7 L1630.3,487.6 L1631.2,487.6 L1632.1,487.6 L1632.9,487.5 L1633.8,487.5 L1634.7,487.5 L1635.6,487.5 L1636.5,487.5 L1637.4,487.5 L1638.2,487.5 L1639.1,487.5 L1640.0,487.5 L1640.9,487.6 L1641.8,487.6 L1642.7,487.6 L1643.5,487.6 L1644.4,487.7 L1645.3,487.7 L1646.2,487.7 L1647.1,487.8 L1648.0,487.8 L1648.9,487.8 L1649.7,487.9 L1650.6,487.9 L1651.5,488.0 L1652.4,488.0 L1653.3,488.1 L1654.2,488.1 L1655.0,488.2 L1655.9,488.2 L1656.8,488.3 L1657.7,488.4 L1658.6,488.4 L1659.5,488.5 L1660.3,488.5 L1661.2,488.6 L1662.1,488.7 L1663.0,488.7 L1663.9,488.8 L1664.8,488.9 L1665.6,488.9 L1666.5,489.0 L1667.4,489.1 L1668.3,489.1 L1669.2,489.2 L1670.1,489.2 L1671.0,489.3 L1671.8,489.3 L1672.7,489.4 L1673.6,489.4 L1674.5,489.5 L1675.4,489.5 L1676.3,489.6 L1677.1,489.6 L1678.0,489.7 L1678.9,489.7 L1679.8,489.8 L1680.7,489.8 L1681.6,489.9 L1682.4,489.9 L1683.3,490.0 L1684.2,490.0 L1685.1,490.1 L1686.0,490.1 L1686.9,490.2 L1687.7,490.2 L1688.6,490.3 L1689.5,490.3 L1690.4,490.4 L1691.3,490.4 L1692.2,490.4 L1693.0,490.5 L1693.9,490.5 L1698.2,490.7 L1702.5,490.9 L1706.8,491.1 L1711.1,491.3 L1715.4,491.5 L1719.7,491.6 L1724.0,491.8 L1728.3,491.9 L1732.6,492.1 L1736.9,492.2 L1741.2,492.3 L1745.5,492.4 L1749.8,492.5 L1754.1,492.6 L1758.4,492.7 L1762.6,492.8 L1766.9,492.9 L1771.2,493.0 L1775.5,493.0 L1779.8,493.1 L1784.1,493.2 L1788.4,493.3 L1792.7,493.3 L1797.0,493.4 L1801.3,493.5 L1805.6,493.5 L1809.9,493.6 L1814.2,493.7 L1818.5,493.7 L1822.8,493.8 L1827.1,493.8 L1831.4,493.9 L1835.7,493.9 L1840.0,494.0 L1844.2,494.0 L1848.5,494.1 L1852.8,494.1 L1857.1,494.2 L1861.4,494.2 L1865.7,494.3 L1870.0,494.3 L1874.3,494.4 L1878.6,494.4 L1882.9,494.5 L1887.2,494.5 L1891.5,494.5 L1895.8,494.6 L1900.1,494.6 L1904.4,494.6 L1908.7,494.7 L1913.0,494.7 L1917.3,494.8 L1921.6,494.8 L1925.8,494.8 L1930.1,494.9 L1934.4,494.9 L1938.7,494.9 L1943.0,495.0 L1947.3,495.0 L1951.6,495.0 L1955.9,495.0 L1960.2,495.1 L1964.5,495.1 L1968.8,495.1 L1973.1,495.2 L1977.4,495.2 L1981.7,495.2 L1986.0,495.3 L1990.3,495.3 L1994.6,495.3 L1998.9,495.3 L2003.2,495.4 L2007.4,495.4 L2011.7,495.4 L2016.0,495.4 L2020.3,495.5 L2024.6,495.5 L2028.9,495.5 L2033.2,495.6 L2037.5,495.6 L2041.8,495.6 L2046.1,495.6 L2050.4,495.6 L2054.7,495.7 L2059.0,495.7 L2063.3,495.7 L2067.6,495.7 L2071.9,495.7 L2076.2,495.8 L2080.5,495.8 L2084.7,495.8 L2089.0,495.8 L2093.3,495.8 L2097.6,495.8 L2101.9,495.8 L2106.2,495.9 L2110.5,495.9 L2114.8,495.9 L2119.1,495.9 L2123.4,495.9 L2127.7,495.9 L2132.0,495.9 L2136.3,495.9 L2140.6,495.9 L2144.9,496.0 L2149.2,496.0 L2153.5,496.0 L2157.8,496.0 L2162.1,496.0 L2166.3,496.0 L2170.6,496.0 L2174.9,496.0 L2179.2,496.0 L2183.5,496.0 L2187.8,496.0 L2192.1,496.0 L2196.4,496.0 L2200.7,496.0 L2205.0,496.0" stroke="#ff0000" stroke-dasharray="45 15.4 12 15.4" stroke-dashoffset="51.5"/>
<path d="M288.5,1366.4L289.9,1362.0M288.9,1367.3L289.9,1359.7M291.6,1345.9L292.4,1338.3M293.9,1324.4L294.5,1316.8M295.7,1301.9L296.3,1294.3M297.2,1279.9L297.8,1272.3M299.0,1257.9L299.6,1250.3M300.7,1236.3L301.3,1228.7M302.7,1214.3L303.3,1206.7M304.5,1192.3L305.1,1184.7M306.4,1170.3L307.2,1162.7M308.6,1148.3L309.4,1140.7M311.1,1126.7L312.1,1119.1M314.0,1104.6L315.4,1097.2M318.6,1083.2L320.4,1075.8M324.6,1061.9L326.4,1054.5M329.8,1040.3L331.2,1032.9M333.4,1018.9L334.8,1011.5M337.6,997.3L339.4,989.9M343.0,976.3L345.0,968.9M348.6,954.9L350.4,947.5M354.0,933.2L356.2,926.0M361.2,912.1L364.4,905.1M371.4,892.7L375.0,886.1M381.9,873.7L385.7,867.1M392.9,855.0L396.7,848.4M404.7,835.9L407.9,829.1M411.8,815.4L415.4,808.8M424.6,798.5L429.0,792.3M436.9,780.0L440.9,773.6M447.9,761.3L452.1,754.9M460.4,743.2L465.2,737.2M475.2,726.5L480.0,720.7M488.9,709.5L492.7,702.9M496.4,689.5L500.6,683.1M512.3,673.6L516.5,667.2M521.0,654.1L523.8,647.1M528.6,634.1L532.0,627.3M540.3,614.0L544.3,607.6M552.0,595.4L556.4,589.2M565.5,578.4L569.3,571.8M573.8,558.6L577.0,551.8M584.1,538.3L588.9,532.3M599.9,523.5L605.3,518.1M615.1,508.2L618.9,501.6M622.6,487.0L626.2,480.4M635.5,469.7L639.7,463.3M646.3,451.2L650.1,444.6M656.2,432.2L661.4,426.6M674.7,418.8L680.1,413.4M687.2,402.1L691.4,395.7M698.8,381.9L703.6,376.1M713.9,367.8L720.3,363.8M734.9,358.1L741.7,354.9M753.2,348.0L760.4,345.4M774.2,342.5L781.8,341.5M795.5,339.9L802.9,341.3M815.6,348.2L822.4,351.6M834.3,358.6L840.9,362.4M853.0,369.0L859.4,373.2M870.3,381.9L876.1,386.7M885.9,394.7L890.7,400.5M897.0,413.5L902.4,418.7M911.3,419.4L916.3,425.0M921.6,439.4L925.6,445.8M934.0,457.2L939.6,462.4M952.6,469.7L958.2,474.9M966.2,485.7L970.0,492.3M974.4,507.1L978.8,513.3M990.7,520.6L995.7,526.2M1002.7,538.0L1006.1,544.8M1010.9,559.1L1013.7,566.1M1018.3,579.8L1022.3,586.2M1029.0,590.5L1034.4,595.7M1042.7,603.8L1047.1,610.0M1052.2,623.6L1058.2,628.2M1065.8,622.9L1071.6,627.9M1075.7,642.3L1080.3,648.3M1090.2,655.6L1096.0,660.4M1107.6,669.7L1113.0,674.9M1121.7,686.4L1128.1,690.4M1139.7,692.1L1147.1,694.1M1159.8,698.8L1167.4,699.4M1181.0,696.2L1188.6,696.2M1202.9,700.5L1210.3,698.5M1219.3,687.6L1225.7,683.6M1238.5,680.2L1244.5,675.4M1252.4,662.3L1258.0,657.3M1268.6,654.0L1274.2,648.8M1281.9,635.5L1287.3,630.1M1299.2,622.7L1304.6,617.5M1312.2,607.3L1316.4,601.1M1322.9,588.5L1327.9,582.9M1340.0,575.2L1345.2,569.6M1353.1,558.1L1356.5,551.3M1360.3,536.6L1364.7,530.4M1377.7,523.2L1382.3,517.2M1386.7,503.0L1390.3,496.2M1398.2,484.7L1402.6,478.5M1411.7,468.4L1415.5,461.8M1420.8,448.2L1424.0,441.2M1430.2,427.3L1434.2,420.9M1442.9,410.2L1447.9,404.6M1457.8,394.7L1463.8,389.9M1476.8,383.2L1481.8,377.6M1487.1,364.3L1491.1,357.7M1498.9,345.1L1504.9,340.3M1518.4,337.2L1525.0,333.4M1535.5,322.4L1542.3,319.2M1556.6,315.9L1563.6,318.7M1567.4,329.1L1569.8,336.3M1572.0,350.2L1573.6,357.6M1576.7,372.7L1578.1,380.1M1580.5,393.9L1582.1,401.3M1585.2,415.1L1587.0,422.5M1590.6,436.4L1593.2,443.6M1599.0,457.2L1602.4,464.0M1610.0,476.7L1614.6,482.7M1624.0,493.5L1630.4,497.7M1644.1,501.9L1649.9,503.5M1665.7,507.2L1671.7,507.8M1688.3,507.1L1694.3,506.9M1709.5,506.3L1715.5,506.1M1732.0,505.1L1738.0,504.7M1753.2,503.7L1759.2,503.3M1775.1,502.8L1781.1,502.6M1797.4,502.3L1803.4,502.1M1819.4,501.6L1825.4,501.4M1841.4,501.2L1847.4,501.1M1863.4,500.8L1869.4,500.7M1885.4,500.5L1891.4,500.4M1907.4,500.2L1913.4,500.1M1929.4,500.0L1935.4,499.9M1951.4,499.8L1957.4,499.7M1973.4,499.6L1979.4,499.6M1995.4,499.5L2001.4,499.4M2017.4,499.3L2023.4,499.3M2039.4,499.2L2045.4,499.2M2061.4,499.1L2067.4,499.1M2083.4,499.0L2089.4,499.0M2105.4,499.0L2111.4,498.9M2127.4,498.9L2133.4,498.9M2149.4,498.8L2155.4,498.8M2171.4,498.8L2177.4,498.8M2193.4,498.8L2199.4,498.7" stroke="#228b22"/>
</g>
<g class="tick">
<text x="288.5" y="1473.5" text-anchor="middle">0</text>
<text x="927.3" y="1473.5" text-anchor="middle">5</text>
<text y="1473.5"><tspan x="1524.4" dy="-0.6" font-family="NanumGothic" font-size="67.5" stroke="#262626" stroke-width="1.5" stroke-linejoin="round">1</tspan><tspan x="1566.2" dy="0.6">0</tspan></text>
<text y="1473.5"><tspan x="2163.4" dy="-0.6" font-family="NanumGothic" font-size="67.5" stroke="#262626" stroke-width="1.5" stroke-linejoin="round">1</tspan><tspan x="2205.0" dy="0.6">5</tspan></text>
<text x="254.8" y="92.3" text-anchor="end">0.5</text>
<text x="254.8" y="527.0" text-anchor="end">0</text>
<text x="254.8" y="961.7" text-anchor="end">-0.5</text>
<text y="1396.4"><tspan x="193.5">-</tspan><tspan x="218.1" dy="-0.6" font-family="NanumGothic" font-size="67.5" stroke="#262626" stroke-width="1.5" stroke-linejoin="round">1</tspan></text>
</g>
<g fill="none" stroke-width="8.3">
<line x1="729" y1="1015" x2="950" y2="1015" stroke="#0000ff"/>
<line x1="729" y1="1097" x2="950" y2="1097" stroke="#000" stroke-dasharray="56 32"/>
<line x1="729" y1="1179" x2="950" y2="1179" stroke="#ff0000" stroke-dasharray="45 15.4 12 15.4"/>
<line x1="729" y1="1261" x2="950" y2="1261" stroke="#228b22" stroke-dasharray="6.6 15.35"/>
</g>
<g class="tex" style="fill:#000;stroke:#000;stroke-width:1.2;stroke-linejoin:round">
<text y="1032.0"><tspan x="966.85" textLength="114.37" lengthAdjust="spacingAndGlyphs" font-size="69">The</tspan> <tspan x="1103.00" textLength="209.00" lengthAdjust="spacingAndGlyphs" font-size="69">tracked</tspan> <tspan x="1335.83" textLength="150.70" lengthAdjust="spacingAndGlyphs" font-size="69">angle</tspan> <tspan x="1511.17" textLength="33.30" lengthAdjust="spacingAndGlyphs" font-size="69" font-style="italic">x</tspan><tspan x="1545.50" textLength="18.68" lengthAdjust="spacingAndGlyphs" font-size="48" dy="10.0" font-style="italic">r</tspan><tspan x="1567.80" textLength="9.60" lengthAdjust="spacingAndGlyphs" font-size="48">,</tspan><tspan x="1577.67" textLength="21.33" lengthAdjust="spacingAndGlyphs" font-size="48">1</tspan> <tspan x="1630.75" textLength="139.85" lengthAdjust="spacingAndGlyphs" font-size="69" dy="-10.0">(rad)</tspan></text>
<text y="1114.0"><tspan x="966.85" textLength="114.37" lengthAdjust="spacingAndGlyphs" font-size="69">The</tspan> <tspan x="1103.00" textLength="209.00" lengthAdjust="spacingAndGlyphs" font-size="69">tracked</tspan> <tspan x="1335.75" textLength="215.60" lengthAdjust="spacingAndGlyphs" font-size="69">angular</tspan> <tspan x="1575.00" textLength="221.00" lengthAdjust="spacingAndGlyphs" font-size="69">velocity</tspan> <tspan x="1821.17" textLength="33.30" lengthAdjust="spacingAndGlyphs" font-size="69" font-style="italic">x</tspan><tspan x="1856.50" textLength="18.68" lengthAdjust="spacingAndGlyphs" font-size="48" dy="10.0" font-style="italic">r</tspan><tspan x="1878.80" textLength="9.60" lengthAdjust="spacingAndGlyphs" font-size="48">,</tspan><tspan x="1888.12" textLength="23.70" lengthAdjust="spacingAndGlyphs" font-size="48">2</tspan> <tspan x="1940.74" textLength="116.26" lengthAdjust="spacingAndGlyphs" font-size="69" dy="-10.0">(rad</tspan><tspan x="2062.00" textLength="25.68" lengthAdjust="spacingAndGlyphs" font-size="97" dy="15.0">/</tspan><tspan x="2090.85" textLength="49.63" lengthAdjust="spacingAndGlyphs" font-size="69" dy="-15.0">s)</tspan></text>
<text y="1196.0"><tspan x="966.85" textLength="114.37" lengthAdjust="spacingAndGlyphs" font-size="69">The</tspan> <tspan x="1102.22" textLength="150.81" lengthAdjust="spacingAndGlyphs" font-size="69">angle</tspan> <tspan x="1277.57" textLength="33.21" lengthAdjust="spacingAndGlyphs" font-size="69" font-style="italic">x</tspan><tspan x="1311.40" textLength="23.07" lengthAdjust="spacingAndGlyphs" font-size="48" dy="10.0">1</tspan> <tspan x="1364.12" textLength="141.51" lengthAdjust="spacingAndGlyphs" font-size="69" dy="-10.0">(rad)</tspan></text>
<text y="1278.0"><tspan x="966.85" textLength="114.37" lengthAdjust="spacingAndGlyphs" font-size="69">The</tspan> <tspan x="1102.15" textLength="215.90" lengthAdjust="spacingAndGlyphs" font-size="69">angular</tspan> <tspan x="1342.00" textLength="221.00" lengthAdjust="spacingAndGlyphs" font-size="69">velocity</tspan> <tspan x="1588.17" textLength="33.30" lengthAdjust="spacingAndGlyphs" font-size="69" font-style="italic">x</tspan><tspan x="1623.65" textLength="21.57" lengthAdjust="spacingAndGlyphs" font-size="48" dy="10.0">2</tspan> <tspan x="1674.34" textLength="116.66" lengthAdjust="spacingAndGlyphs" font-size="69" dy="-10.0">(rad</tspan><tspan x="1796.00" textLength="25.68" lengthAdjust="spacingAndGlyphs" font-size="97" dy="15.0">/</tspan><tspan x="1824.80" textLength="50.95" lengthAdjust="spacingAndGlyphs" font-size="69" dy="-15.0">s)</tspan></text>
</g>
<g class="tex" style="fill:#262626;stroke:#262626;stroke-width:1.1;stroke-linejoin:round">
<text y="1558.6"><tspan x="1107.05" textLength="165.80" lengthAdjust="spacingAndGlyphs" font-size="74">Time</tspan> <tspan x="1302.04" textLength="20.05" lengthAdjust="spacingAndGlyphs" font-size="74" font-style="italic">t</tspan><tspan x="1326.40" textLength="27.07" lengthAdjust="spacingAndGlyphs" font-size="105" dy="18.0">/</tspan><tspan x="1358.50" textLength="28.70" lengthAdjust="spacingAndGlyphs" font-size="74" dy="-18.0">s</tspan></text>
<text y="0.0" transform="translate(86,0) rotate(-90)"><tspan x="-1226.02" textLength="121.85" lengthAdjust="spacingAndGlyphs" font-size="74">The</tspan> <tspan x="-1077.25" textLength="225.80" lengthAdjust="spacingAndGlyphs" font-size="74">robotic</tspan> <tspan x="-827.66" textLength="155.83" lengthAdjust="spacingAndGlyphs" font-size="74">state</tspan> <tspan x="-643.69" textLength="34.48" lengthAdjust="spacingAndGlyphs" font-size="74" font-style="italic">x</tspan><tspan x="-599.50" textLength="20.25" lengthAdjust="spacingAndGlyphs" font-size="74">(</tspan><tspan x="-578.08" textLength="22.92" lengthAdjust="spacingAndGlyphs" font-size="74" font-style="italic">t</tspan><tspan x="-548.31" textLength="21.44" lengthAdjust="spacingAndGlyphs" font-size="74">)</tspan> <tspan x="-494.25" textLength="113.15" lengthAdjust="spacingAndGlyphs" font-size="74">and</tspan> <tspan x="-350.79" textLength="34.48" lengthAdjust="spacingAndGlyphs" font-size="74" font-style="italic">x</tspan><tspan x="-312.46" textLength="21.90" lengthAdjust="spacingAndGlyphs" font-size="52" dy="10.5" font-style="italic">r</tspan><tspan x="-278.40" textLength="20.25" lengthAdjust="spacingAndGlyphs" font-size="74" dy="-10.5">(</tspan><tspan x="-256.98" textLength="22.92" lengthAdjust="spacingAndGlyphs" font-size="74" font-style="italic">t</tspan><tspan x="-227.21" textLength="21.44" lengthAdjust="spacingAndGlyphs" font-size="74">)</tspan></text>
</g>
</svg></body></html>
